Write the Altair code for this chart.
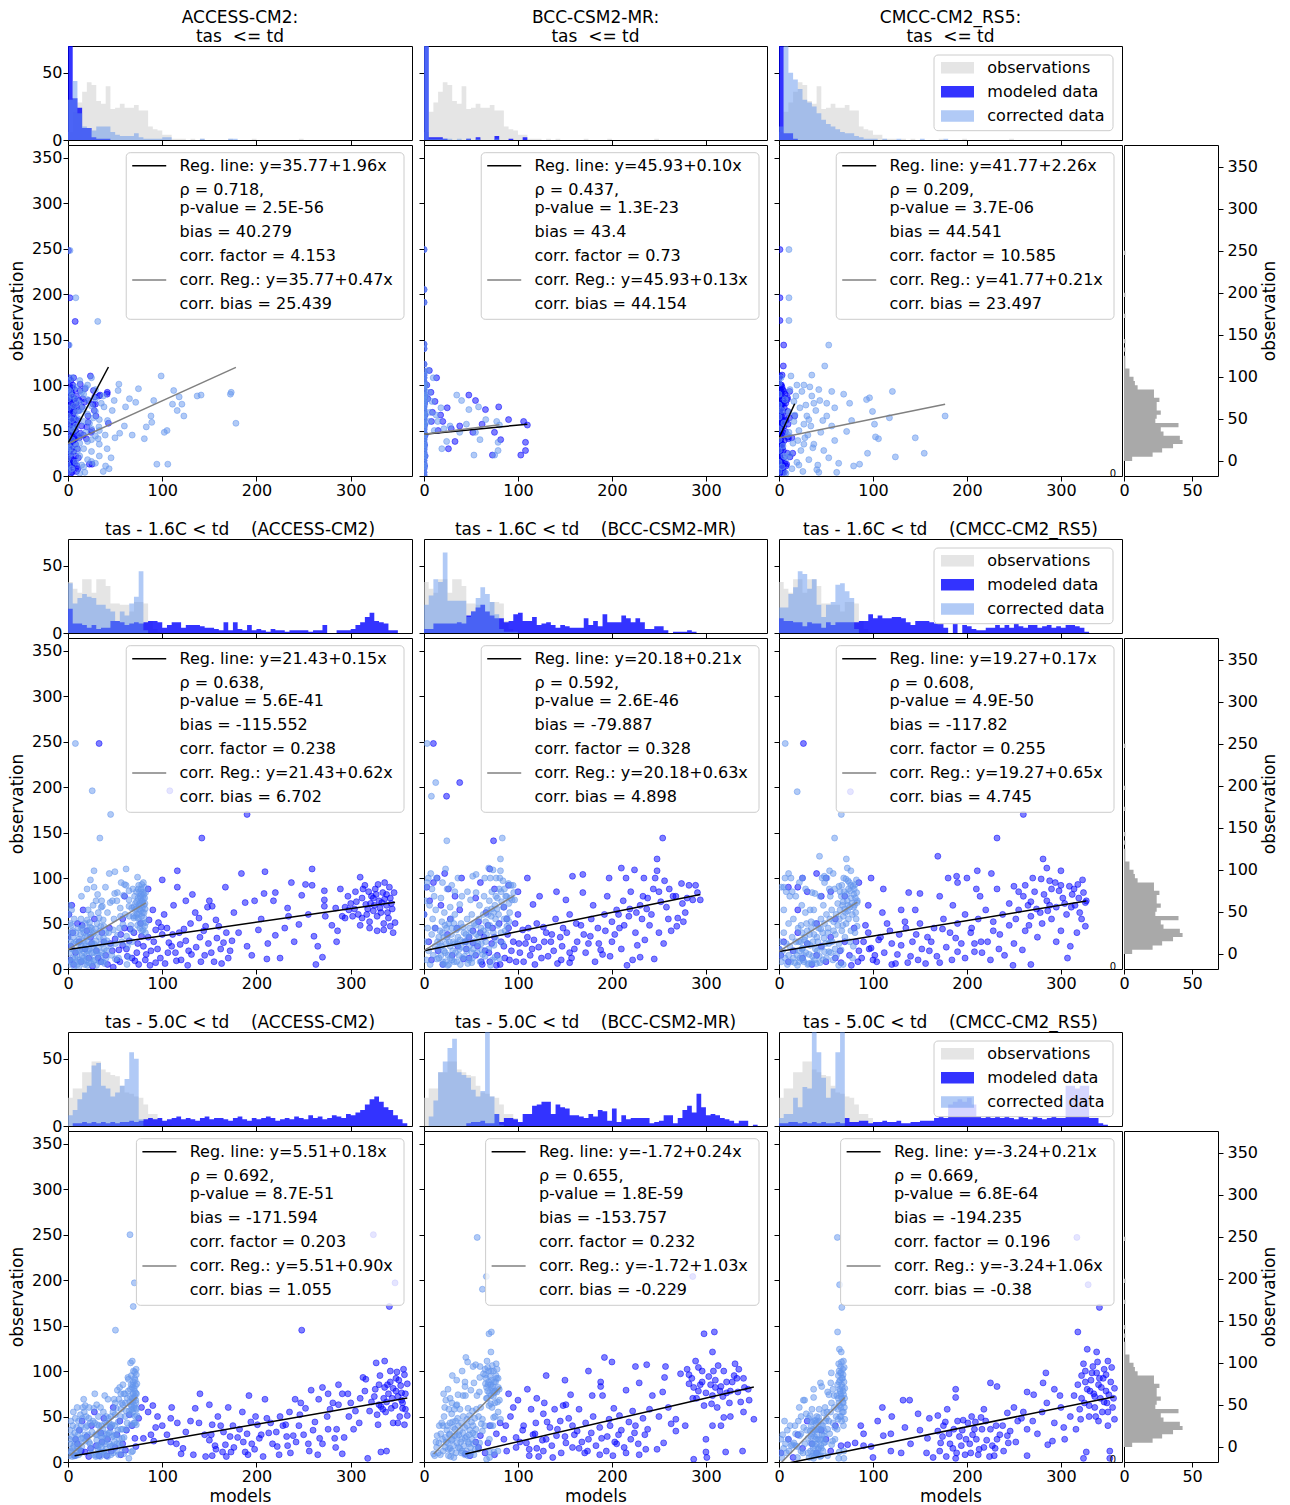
import altair as alt
import pandas as pd

FONT = "DejaVu Sans"

# ------------------------------------------------------------------ data
models = ["ACCESS-CM2", "BCC-CSM2-MR", "CMCC-CM2_RS5"]
conditions = ["tas  <= td", "tas - 1.6C < td", "tas - 5.0C < td"]

reg_a = [[35.77, 45.93, 41.77], [21.43, 20.18, 19.27], [5.51, -1.72, -3.24]]
reg_b = [[1.96, 0.10, 2.26], [0.15, 0.21, 0.17], [0.18, 0.24, 0.21]]
corr_b = [[0.47, 0.13, 0.21], [0.62, 0.63, 0.65], [0.90, 1.03, 1.06]]
rho = [[0.718, 0.437, 0.209], [0.638, 0.592, 0.608], [0.692, 0.655, 0.669]]
pval = [["2.5E-56", "1.3E-23", "3.7E-06"], ["5.6E-41", "2.6E-46", "4.9E-50"], ["8.7E-51", "1.8E-59", "6.8E-64"]]
bias = [[40.279, 43.4, 44.541], [-115.552, -79.887, -117.82], [-171.594, -153.757, -194.235]]
factor = [[4.153, 0.73, 10.585], [0.238, 0.328, 0.255], [0.203, 0.232, 0.196]]
corr_bias = [[25.439, 44.154, 23.497], [6.702, 4.898, 4.745], [1.055, -0.229, -0.38]]

# histogram counts, bins of 5 units starting at 0
obs_counts = [6, 21, 28, 36, 43, 41, 29, 27, 40, 23, 24, 27, 24, 24, 26, 22, 22, 10, 8, 7,
              4, 4, 1, 1, 1, 0, 1, 0, 1, 0, 0, 0, 0, 0, 1, 0, 0, 0, 0, 1, 0, 0, 0, 0, 0, 0, 0, 0, 0, 1]
obs_top_r2 = [38, 33, 30, 40, 40, 30, 40, 40, 35, 22, 22, 21, 21, 16, 23, 23, 22, 9, 3, 1]
obs_top_r3 = [21, 28, 28, 40, 40, 48, 48, 42, 40, 38, 37, 30, 25, 24, 22, 21, 16, 9, 9, 6, 2, 1]

mod_top = [
    [[80, 31, 24, 9, 9, 2, 1, 1, 1],
     [100, 2, 2, 2, 1, 0, 0, 0, 0, 1, 0, 2, 0, 0, 0, 3, 0, 0, 1, 0, 0, 2],
     [90, 5, 5, 1]],
    [[18, 7, 7, 6, 4, 6, 3, 4, 4, 9, 9, 8, 6, 7, 8, 7, 8, 9, 9, 8, 4, 6, 8, 8, 4, 6, 6, 6, 5, 4,
      4, 3, 2, 8, 2, 8, 3, 2, 6, 2, 3, 2, 1, 3, 2, 2, 1, 2, 2, 2, 2, 1, 2, 2, 6, 0, 0, 2, 2, 2,
      3, 6, 8, 12, 15, 9, 8, 7, 2, 2],
     [3, 3, 7, 7, 7, 7, 7, 8, 7, 13, 16, 19, 21, 16, 13, 11, 11, 8, 9, 14, 15, 9, 9, 12, 6, 7, 8, 6, 4, 6,
      5, 4, 4, 4, 11, 6, 9, 5, 14, 8, 8, 8, 13, 11, 8, 11, 8, 3, 3, 5, 5, 2, 0, 1, 1, 1, 2, 1],
     [11, 9, 9, 8, 8, 5, 8, 7, 7, 4, 8, 6, 8, 8, 8, 8, 8, 9, 9, 14, 11, 13, 11, 11, 12, 12, 11, 8, 6, 9,
      9, 9, 8, 7, 7, 4, 0, 7, 0, 6, 5, 3, 2, 2, 4, 4, 6, 4, 6, 4, 7, 5, 4, 6, 6, 4, 5, 6, 4, 5,
      4, 6, 6, 5, 4, 1]],
    [[0, 2, 2, 3, 2, 3, 2, 3, 2, 3, 2, 3, 3, 4, 3, 4, 5, 6, 5, 6, 4, 5, 6, 7, 5, 6, 5, 4, 6, 7,
      5, 6, 6, 5, 4, 6, 7, 5, 4, 6, 5, 6, 7, 6, 4, 5, 6, 5, 7, 6, 5, 8, 6, 7, 5, 6, 8, 7, 6, 9,
      8, 10, 12, 16, 20, 22, 18, 14, 12, 8, 5, 2],
     [0, 0, 0, 0, 0, 0, 0, 0, 0, 2, 3, 3, 4, 2, 2, 9, 3, 6, 6, 5, 3, 9, 9, 15, 16, 18, 18, 9, 16, 14,
      13, 8, 8, 7, 6, 9, 7, 12, 11, 4, 13, 3, 8, 5, 6, 6, 6, 6, 2, 3, 4, 8, 8, 2, 6, 12, 15, 10, 24, 14,
      8, 9, 8, 6, 5, 4, 2, 4, 4, 0, 1],
     [2, 2, 3, 3, 2, 3, 2, 3, 2, 3, 2, 2, 3, 2, 6, 3, 3, 4, 4, 2, 3, 3, 4, 3, 3, 4, 2, 2, 3, 3,
      4, 4, 4, 6, 7, 6, 16, 18, 20, 18, 21, 16, 7, 6, 7, 6, 7, 6, 7, 6, 5, 7, 6, 5, 7, 6, 5, 6, 7, 6,
      6, 30, 30, 28, 30, 30, 6, 6, 2, 1]],
]
cor_top = [
    [[30, 44, 20, 10, 9, 7, 10, 10, 10, 6, 4, 3, 3, 3, 5, 2, 1, 1, 1, 1, 2, 2, 0, 0, 0, 0, 0, 0, 1, 0,
      0, 0, 0, 0, 1, 1],
     [95, 1, 1, 1, 1, 1, 0, 1, 0, 1, 0, 1, 0, 0, 0, 1],
     [10, 70, 50, 45, 38, 30, 28, 25, 20, 15, 12, 10, 8, 6, 5, 5, 3, 2, 1, 1, 1, 0, 1, 0, 0, 1, 0, 0, 0, 0,
      1, 0, 0, 0, 0, 1]],
    [[37, 22, 26, 29, 27, 26, 21, 21, 18, 16, 9, 16, 13, 22, 27, 46, 2],
     [21, 28, 40, 38, 60, 24, 24, 24, 24, 12, 16, 26, 34, 29, 23, 14, 3, 1, 1, 1],
     [19, 19, 29, 34, 46, 44, 33, 40, 21, 12, 21, 23, 36, 37, 31, 26, 3]],
    [[8, 12, 20, 25, 30, 45, 47, 30, 28, 22, 25, 30, 35, 55, 50, 5],
     [0, 7, 19, 40, 48, 58, 65, 40, 38, 36, 27, 22, 26, 75, 22, 9, 1],
     [6, 9, 9, 21, 14, 29, 28, 75, 55, 36, 21, 28, 55, 75]],
]
obs_top = [obs_counts, obs_top_r2, obs_top_r3]

# scatter points: (model value, observation)
p11 = [(0.5, 248), (2, 196), (7.6, 170), (0.3, 144),
       (42.9, 58), (41.7, 92), (34, 89), (29.6, 66), (29.1, 79), (28.4, 87), (27, 94), (27.9, 72), (26.7, 79),
       (25.5, 13), (25.3, 50), (24.6, 48), (23.8, 110), (21.9, 83), (21.4, 59), (21.2, 66), (20, 54), (19.5, 41),
       (18, 96), (17.3, 81), (16.4, 45), (15.7, 85), (14.7, 76), (14.4, 55), (13, 101), (12.8, 94), (13.2, 47),
       (12, 42), (11.8, 83), (11.3, 72), (10.1, 61), (9.6, 11), (9.2, 76), (7.9, 54), (7.7, 41), (4.3, 4),
       (33, 88), (22.7, 13), (41.5, 90),
       (0, 5), (0, 12), (0, 20), (0, 28), (0, 35), (0, 42), (0, 50), (0, 58), (0, 66), (0, 75), (0, 85), (0, 95),
       (0, 105), (1, 8), (1, 25), (1, 40), (1, 62), (1, 88), (1, 108), (2, 15), (2, 33), (2, 55), (2, 70), (2, 98),
       (3, 3), (3, 22), (3, 45), (3, 80), (3, 105), (4, 10), (4, 30), (4, 60), (4, 90), (5, 18), (5, 38), (5, 68),
       (5, 100), (5, 84), (6, 27), (6, 52), (6, 77), (6, 108), (7, 14), (7, 44), (7, 85), (7, 95), (8, 35), (8, 62),
       (8, 22), (9, 5), (10, 30), (11, 20), (3, 72), (1.5, 50), (2.5, 28), (4.5, 48), (6.5, 64), (8.5, 80),
       (9.5, 45), (10.5, 8), (3.5, 92), (5.5, 58), (0.5, 31), (1.5, 77), (2.5, 63), (3.5, 12), (4.5, 97),
       (6, 40), (7, 71), (8, 50), (9, 88), (1, 52), (2, 84), (4, 74), (0.5, 93), (6, 16), (3, 36)]
p12 = [(0, 249), (0, 205), (0, 191), (0, 145), (0, 140), (0, 123),
       (0, 1), (0, 4), (0, 8), (0, 11), (0, 14), (0, 17), (0, 20), (0, 23), (0, 26), (0, 29), (0, 31), (0, 34),
       (0, 37), (0, 40), (0, 42), (0, 45), (0, 48), (0, 51), (0, 53), (0, 56), (0, 58), (0, 61), (0, 63), (0, 66),
       (0, 68), (0, 71), (0, 73), (0, 76), (0, 78), (0, 81), (0, 84), (0, 87), (0, 89), (0, 92), (0, 95), (0, 98),
       (0, 101), (0, 104), (0, 108), (0, 111), (0, 115),
       (0.6, 11), (0.6, 34), (0.6, 56), (0.6, 80), (0.6, 99), (1.2, 22), (1.2, 45), (1.2, 67), (1.2, 88),
       (5.7, 116), (13.4, 108), (7.4, 92), (11.7, 82), (17.7, 67), (24.7, 75), (29, 52), (33, 38), (47.7, 89),
       (54.8, 83), (61.8, 57), (65.4, 73), (75, 48), (79.5, 76), (81.6, 40), (90, 62), (72.8, 23), (106, 60),
       (108, 37), (108, 28), (103, 23), (110, 56), (4, 85), (9, 70), (20, 60), (38, 55), (52, 48), (3, 100),
       (8, 60), (15, 50), (26, 30)]
p13 = [(1, 249), (1, 196), (1, 171), (5, 144), (4.6, 121),
       (16.7, 66), (14.6, 25), (13.7, 42), (11.7, 21), (11.4, 93), (11.1, 64), (10, 41), (9.7, 43), (9.6, 57),
       (9.4, 71), (9.1, 86), (8.8, 84), (8.9, 25), (8.1, 13), (7.5, 11), (7.3, 61), (7.1, 80), (6.8, 49),
       (6.5, 90), (6, 14), (5.8, 4), (5.6, 39), (5.3, 93), (4.8, 80), (4.4, 61), (4.1, 83), (4, 4), (3.8, 7),
       (3.4, 31), (3.3, 111), (3.1, 98), (2.7, 78), (2.5, 57), (2.3, 93), (1.9, 39), (1.6, 67), (1.1, 24),
       (0, 5), (0, 15), (0, 28), (0, 40), (0, 52), (0, 65), (0, 78), (0, 90), (0, 102), (0.3, 10), (0.4, 33),
       (0.5, 58), (0.6, 84), (0.8, 20), (0.9, 45), (1, 70), (1.1, 95), (1.3, 8), (1.4, 36), (1.5, 60), (1.7, 88),
       (1.8, 15), (2, 50), (2.1, 75), (2.2, 28), (2.4, 5), (2.6, 42), (2.8, 66), (3, 18), (3.2, 55), (3.5, 35),
       (3.7, 72), (3.9, 12), (4.2, 48), (4.5, 28), (4.8, 66), (5, 20), (5.3, 55), (5.6, 75), (0.2, 108),
       (1.2, 110), (2.5, 100), (0.7, 3), (3.3, 88), (4, 95), (0.5, 22), (1, 48), (1.5, 82), (2, 12), (2.5, 35),
       (3, 62), (3.5, 80), (0.3, 72), (1.8, 100), (2.9, 45)]
p21 = [(33, 248), (108, 196), (190, 170), (142, 144),
       (300, 72), (305, 85), (308, 60), (312, 78), (315, 92), (318, 66), (320, 52), (322, 80), (325, 70),
       (326, 88), (328, 42), (330, 75), (332, 62), (334, 84), (335, 43), (336, 95), (338, 70), (340, 56),
       (342, 78), (344, 66), (345, 40), (347, 51), (320, 45), (310, 48), (328, 58), (338, 82), (333, 73),
       (324, 64), (316, 71), (341, 90), (310, 101),
       (184, 105), (209, 107), (259, 110), (237, 95), (252, 93), (259, 92), (188, 73), (198, 75), (208, 83),
       (220, 84), (218, 75), (233, 67), (248, 81), (272, 86), (272, 76), (289, 88), (297, 80), (272, 69),
       (284, 67), (291, 58), (294, 68), (181, 40), (190, 25), (195, 15), (202, 43), (211, 11), (220, 37),
       (225, 12), (234, 58), (245, 49), (261, 36), (263, 5), (270, 13), (273, 58), (286, 42), (294, 56),
       (176, 62), (205, 55), (240, 30), (255, 60), (280, 48), (265, 25), (230, 45), (212, 28), (285, 30),
       (298, 65),
       (116, 108), (116, 90), (167, 90), (132, 82), (150, 75), (153, 69), (148, 68), (86, 54), (96, 51),
       (93, 43), (100, 38), (107, 29), (114, 18), (125, 31), (135, 62), (139, 56), (146, 47), (157, 54),
       (160, 47), (165, 29), (174, 31), (56, 38), (65, 31), (73, 18), (82, 10), (93, 7), (80, 25), (54, 21),
       (52, 10), (40, 15), (45, 28), (35, 8), (60, 45), (70, 40), (75, 5), (88, 20), (98, 12), (105, 45),
       (110, 25), (120, 10), (128, 20), (140, 35), (145, 15), (155, 8), (162, 22), (170, 12), (48, 2), (62, 22),
       (68, 12), (85, 35), (102, 60), (118, 40), (130, 50), (38, 30), (44, 45), (58, 55), (77, 50), (90, 65),
       (112, 70), (125, 75), (60, 80), (85, 88), (100, 98),
       (1, 60), (2, 10), (3, 25), (5, 40), (6, 5), (8, 18), (10, 50), (12, 30), (14, 8), (16, 65), (18, 22),
       (20, 42), (22, 12), (24, 35), (26, 3), (28, 55), (30, 20), (4, 70), (15, 48), (25, 28), (0, 35),
       (32, 12), (36, 40), (42, 5), (47, 20), (50, 33), (55, 8), (58, 26), (63, 14), (66, 44), (71, 9), (74, 28),
       (78, 36), (83, 16), (87, 4), (91, 30), (95, 22), (99, 46), (103, 6), (106, 18), (111, 38), (115, 9),
       (119, 27), (123, 44), (127, 4), (131, 16), (136, 24), (141, 8), (144, 42), (149, 28), (152, 18), (158, 34),
       (163, 6), (168, 40), (172, 20), (302, 58), (306, 74), (313, 88), (317, 60), (321, 72), (327, 82),
       (331, 67), (336, 77), (339, 62), (343, 72), (346, 84), (329, 93), (319, 85), (304, 66), (312, 56),
       (335, 50), (342, 47), (324, 78)]
p22 = [(10, 248), (38, 205), (24, 190), (74, 141), (254, 144), (248, 121),
       (158, 102), (169, 104), (210, 111), (224, 109), (248, 108), (197, 100), (215, 100), (234, 100),
       (246, 100), (256, 97), (282, 92), (289, 92), (294, 76), (286, 76), (270, 56), (269, 47), (263, 42),
       (245, 11), (230, 13), (222, 10), (216, 4), (227, 26), (188, 21), (190, 16), (141, 85), (151, 76),
       (169, 84), (116, 71), (123, 80), (180, 70), (195, 80), (205, 65), (212, 75), (220, 85), (230, 70),
       (238, 78), (242, 60), (250, 85), (258, 68), (265, 80), (275, 72), (278, 62), (260, 55), (250, 40),
       (240, 48), (232, 55), (225, 40), (218, 58), (208, 45), (200, 52), (192, 60), (185, 45), (178, 55),
       (170, 38), (162, 50), (155, 60), (148, 45), (140, 55), (135, 30), (175, 28), (200, 30), (210, 22),
       (235, 32), (255, 28), (160, 22),
       (155, 18), (146, 10), (155, 7), (105, 43), (102, 18), (91, 10), (81, 5), (42, 11), (52, 29), (60, 40),
       (65, 20), (70, 8), (75, 35), (80, 50), (85, 25), (90, 45), (95, 30), (100, 60), (110, 35), (115, 22),
       (120, 50), (125, 12), (130, 40), (138, 20), (145, 35), (55, 15), (62, 5), (68, 48), (72, 28), (78, 15),
       (88, 55), (98, 8), (108, 28), (118, 5), (128, 30), (48, 35), (58, 52), (45, 22), (66, 62), (85, 68),
       (0, 60), (5, 30), (8, 10), (12, 45), (15, 20), (18, 70), (20, 5), (25, 38), (28, 55), (30, 15), (33, 80),
       (36, 25), (3, 90), (10, 95), (22, 105), (14, 100), (35, 45), (38, 65), (6, 75), (26, 88), (40, 100),
       (60, 95), (70, 110), (90, 92), (100, 85), (55, 78), (75, 88), (110, 100),
       (44, 30), (48, 12), (52, 42), (57, 25), (61, 8), (64, 35), (69, 18), (73, 45), (77, 4), (82, 30), (86, 12),
       (89, 38), (93, 20), (97, 50), (101, 28), (106, 8), (111, 45), (113, 15), (117, 32), (122, 24), (127, 46),
       (132, 14), (136, 38), (142, 6), (147, 25), (152, 40), (157, 12), (163, 30), (167, 48), (172, 18),
       (177, 36), (182, 8), (186, 28), (193, 42), (198, 14), (203, 38), (207, 60), (213, 48), (219, 66),
       (226, 62), (233, 80), (237, 66), (244, 88), (252, 74), (261, 88), (268, 80), (274, 94), (280, 78),
       (291, 84), (276, 52)]
p23 = [(26, 248), (76, 195), (260, 170), (232, 144),
       (169, 124), (281, 121), (285, 111), (300, 108), (211, 108), (226, 105), (180, 100), (189, 102),
       (200, 100), (190, 95), (98, 100), (111, 88), (138, 84), (150, 83), (171, 80), (214, 80), (232, 88),
       (250, 91), (270, 100), (279, 99), (309, 91), (318, 93), (324, 84), (326, 73), (326, 47), (317, 40),
       (307, 12), (300, 42), (268, 5), (249, 4), (259, 21), (208, 19), (190, 19), (171, 7), (148, 10), (137, 7),
       (126, 16), (98, 23), (84, 8), (77, 4), (66, 7),
       (260, 80), (265, 70), (272, 85), (278, 62), (285, 75), (290, 88), (295, 68), (302, 78), (306, 60),
       (312, 82), (315, 70), (320, 62), (322, 55), (290, 55), (280, 50), (268, 58), (255, 65), (245, 72),
       (238, 60), (228, 52), (220, 65), (212, 55), (205, 45), (198, 60), (190, 50), (182, 40), (175, 55),
       (165, 45), (158, 35), (150, 50), (142, 30), (135, 45), (128, 38), (120, 28), (115, 50), (108, 35),
       (102, 15), (95, 40), (90, 30), (85, 20), (80, 45), (75, 15), (70, 30), (65, 20), (60, 12), (55, 35),
       (50, 8), (45, 25), (40, 15), (35, 5), (30, 28), (25, 12), (20, 40), (15, 20), (10, 8), (5, 30), (2, 15),
       (215, 30), (235, 38), (250, 28), (275, 35), (295, 30), (310, 25), (240, 15), (225, 10), (160, 20),
       (110, 62), (130, 65), (95, 70), (60, 55), (40, 50), (20, 65), (10, 90), (30, 85), (50, 100), (70, 80),
       (85, 95), (245, 48), (262, 42), (300, 92), (288, 97), (120, 5), (100, 10), (145, 65), (185, 70),
       (210, 88), (20, 90), (40, 105), (55, 85), (25, 100), (45, 80), (327, 75), (0, 22),
       (82, 30), (88, 12), (92, 48), (96, 22), (104, 8), (106, 32), (112, 18), (118, 42), (124, 6), (130, 26),
       (134, 52), (140, 14), (146, 38), (152, 22), (156, 6), (162, 30), (168, 14), (174, 44), (178, 24),
       (184, 10), (188, 34), (194, 28), (198, 12), (204, 40), (208, 28), (216, 18), (222, 30), (228, 42),
       (234, 22), (255, 85), (262, 92), (268, 74), (274, 66), (282, 82), (288, 70), (294, 95), (298, 86),
       (304, 72), (311, 68), (314, 88), (319, 78), (323, 98), (252, 55), (266, 48), (286, 64)]
p31 = [(324, 250), (347, 197), (341, 171), (248, 145),
       (327, 109), (336, 111), (356, 102), (357, 96), (313, 93), (316, 91), (315, 78), (330, 63), (335, 70),
       (340, 75), (345, 81), (350, 72), (355, 65), (338, 66), (348, 78), (353, 84), (332, 61), (343, 59),
       (355, 59), (345, 43), (350, 43), (357, 41), (329, 41), (320, 56), (318, 4), (332, 11), (338, 12),
       (360, 51), (354, 68), (342, 88), (348, 92), (330, 85), (325, 72), (337, 55), (352, 50), (358, 75),
       (270, 82), (287, 85), (297, 75), (291, 75), (258, 79), (266, 69), (276, 75), (281, 65), (287, 63),
       (298, 50), (305, 56), (309, 43), (303, 36), (293, 27), (291, 9), (284, 16), (285, 36), (276, 36),
       (267, 26), (265, 8), (260, 35), (252, 59), (247, 65), (241, 69), (235, 55), (231, 41), (239, 29),
       (233, 18), (222, 17), (221, 33), (215, 43), (211, 48), (209, 69), (192, 73), (199, 50), (201, 41),
       (190, 31), (188, 11), (180, 27), (173, 11), (167, 19), (164, 11), (157, 14), (153, 7), (150, 24),
       (153, 41), (150, 63), (159, 50), (165, 33), (135, 59), (139, 43), (125, 33), (133, 8), (120, 9),
       (116, 43), (109, 48), (100, 40), (93, 38), (91, 23), (80, 26), (71, 26), (72, 17), (61, 13), (50, 16),
       (41, 7), (33, 7), (22, 6), (18, 11), (82, 69), (109, 22), (122, 15), (146, 6),
       (10, 20), (12, 35), (15, 45), (20, 28), (25, 40), (28, 55), (30, 18), (35, 32), (38, 48), (42, 25),
       (45, 38), (48, 60), (52, 30), (55, 45), (58, 20), (62, 35), (65, 52), (68, 40), (75, 48), (78, 60),
       (85, 55), (88, 30), (90, 62), (95, 50), (14, 12), (8, 25), (24, 15), (36, 22), (46, 12), (56, 8),
       (7, 7), (105, 30), (115, 20), (130, 45), (145, 30), (175, 40), (185, 55), (205, 30), (225, 50),
       (245, 40), (255, 20), (275, 50), (300, 65), (310, 70), (195, 20), (170, 60), (140, 75), (110, 60),
       (152, 30), (156, 18), (162, 40), (168, 6), (172, 28), (176, 16), (182, 36), (186, 22), (191, 8), (194, 44),
       (198, 14), (203, 26), (207, 6), (213, 32), (217, 20), (224, 8), (228, 40), (232, 28), (236, 10), (242, 22),
       (246, 52), (250, 30), (256, 12), (262, 44), (270, 20), (278, 58), (283, 26), (322, 66), (326, 80),
       (331, 95), (334, 58), (339, 85), (344, 70), (347, 62), (351, 90), (354, 76), (358, 58), (336, 82),
       (342, 100), (328, 52), (349, 99), (360, 86)]
p32 = [(244, 247), (286, 204), (268, 190), (298, 141), (309, 143),
       (307, 121), (289, 111), (331, 108), (308, 100), (319, 100), (296, 100), (280, 102), (340, 92),
       (333, 92), (257, 105), (237, 107), (256, 93), (273, 97), (282, 86), (287, 82), (294, 85), (300, 76),
       (307, 73), (316, 83), (326, 78), (334, 77), (337, 66), (340, 55), (351, 47), (326, 50), (319, 49),
       (307, 40), (316, 40), (300, 25), (321, 11), (339, 12), (301, 5), (287, 3), (300, 11), (310, 90),
       (322, 88), (330, 95), (345, 80), (290, 70), (298, 62), (312, 60), (325, 65), (318, 72), (305, 85),
       (285, 92),
       (192, 115), (188, 88), (188, 83), (179, 73), (190, 73), (202, 59), (215, 79), (229, 87), (243, 73),
       (254, 77), (240, 58), (222, 56), (208, 51), (197, 47), (187, 38), (172, 43), (165, 58), (156, 74),
       (151, 63), (148, 62), (139, 58), (128, 65), (127, 53), (114, 58), (100, 68), (119, 43), (134, 38),
       (141, 29), (151, 21), (171, 10), (187, 8), (201, 7), (215, 10), (229, 8), (255, 21), (248, 14),
       (236, 14), (268, 47), (278, 40), (268, 34), (263, 42), (160, 30), (175, 25), (195, 28), (210, 35),
       (225, 40), (235, 30), (250, 50), (260, 60), (180, 50), (130, 25), (145, 45), (165, 15), (220, 25),
       (205, 20), (158, 40),
       (81, 43), (77, 31), (87, 40), (98, 27), (109, 21), (118, 31), (98, 16), (88, 12), (75, 8), (112, 7),
       (127, 12), (137, 5), (58, 16), (60, 29), (68, 21), (49, 7), (44, 9), (92, 50), (105, 35), (70, 40),
       (65, 10), (85, 25), (120, 15), (55, 22), (95, 60), (110, 80), (130, 95), (150, 90), (175, 100),
       (200, 110), (225, 105), (90, 75), (120, 70),
       (102, 22), (106, 40), (112, 14), (116, 30), (122, 6), (126, 24), (131, 44), (136, 18), (142, 36),
       (146, 10), (150, 28), (154, 48), (158, 16), (163, 34), (168, 22), (174, 12), (178, 32), (183, 18),
       (189, 26), (194, 12), (198, 40), (203, 22), (207, 30), (213, 16), (218, 44), (224, 32), (228, 20),
       (233, 48), (238, 36), (282, 96), (286, 70), (292, 104), (296, 88), (303, 94), (306, 64), (313, 106),
       (315, 78), (322, 76), (328, 88), (335, 102), (341, 82), (346, 68), (292, 78), (310, 82)]
p33 = [(317, 247), (329, 195), (341, 170), (318, 143),
       (328, 124), (338, 121), (350, 111), (357, 81), (357, 47), (350, 40), (352, 12), (352, 4), (324, 4),
       (327, 11), (316, 36), (321, 47), (314, 73), (318, 85), (322, 95), (328, 80), (332, 90), (335, 75),
       (338, 98), (340, 85), (342, 70), (345, 92), (348, 78), (349, 65), (344, 55), (336, 60), (330, 50),
       (325, 65), (320, 58), (340, 45), (355, 60), (353, 88), (346, 102), (334, 105), (326, 100),
       (225, 87), (232, 83), (284, 98), (281, 87), (264, 77), (271, 74), (293, 80), (299, 73), (188, 80),
       (188, 71), (179, 58), (169, 51), (160, 48), (148, 53), (132, 68), (139, 68), (134, 38), (119, 31),
       (111, 29), (98, 17), (90, 31), (90, 18), (87, 40), (81, 21), (73, 19), (66, 18), (119, 12), (157, 10),
       (164, 5), (178, 6), (188, 4), (229, 7), (264, 7), (244, 21), (232, 25), (208, 36), (199, 25), (194, 18),
       (215, 49), (218, 58), (201, 43), (181, 31), (172, 21), (169, 34), (158, 26), (243, 54), (254, 45),
       (264, 36), (275, 31), (286, 19), (293, 43), (303, 38), (291, 23), (225, 36), (243, 29), (218, 16),
       (204, 10), (304, 25), (185, 15), (195, 35), (210, 25), (220, 45), (230, 15), (205, 50), (212, 8),
       (190, 45), (175, 40), (238, 40), (250, 60), (260, 55), (280, 55), (300, 60), (310, 50), (270, 45),
       (285, 65),
       (2, 10), (10, 25), (15, 5), (20, 30), (25, 15), (30, 45), (35, 20), (40, 10), (45, 35), (50, 25),
       (55, 12), (60, 40), (120, 50), (105, 45), (140, 20), (150, 35), (100, 5), (130, 10), (110, 60),
       (171, 12), (174, 28), (177, 44), (182, 20), (186, 36), (189, 10), (192, 28), (196, 46), (198, 8),
       (203, 20), (206, 30), (209, 44), (213, 14), (216, 36), (221, 24), (224, 6), (227, 18), (231, 40),
       (235, 30), (239, 12), (246, 34), (252, 22), (258, 48), (322, 70), (326, 88), (330, 62), (333, 98),
       (336, 72), (339, 110), (343, 82), (346, 66), (348, 96), (351, 74), (354, 104), (356, 70), (331, 78),
       (341, 92), (324, 108), (350, 55), (337, 50)]
points = [[p11, p12, p13], [p21, p22, p23], [p31, p32, p33]]

# ------------------------------------------------------------------ style / layout
C_MOD, C_COR, C_OBS, C_RH = "#0000ff", "#6495ed", "#d3d3d3", "#a9a9a9"
BW = 5
PW = [344, 343, 343]
HH, SH, RW = 94, 331, 94
LEG_FS = 16
PT_SIZE = 36
PT_OP = 0.5

CW = {'.': .318, ',': .318, ' ': .318, '=': .838, '+': .838, '-': .361, ':': .337, 'E': .632, 'R': .695,
      'e': .615, 'g': .635, 'l': .278, 'i': .278, 'n': .634, 'y': .592, 'x': .592, 'ρ': .634, 'p': .635,
      'v': .592, 'a': .613, 'u': .634, 'b': .635, 's': .521, 'c': .550, 'o': .612, 'r': .411, 'f': .352,
      't': .392, 'd': .635, 'm': .974}


def text_w(s):
    return sum(CW.get(ch, .636) for ch in s) * LEG_FS


def dummy():
    return pd.DataFrame({"k": [0]})


def spacer(w, h):
    return alt.Chart(dummy()).mark_point(opacity=0).encode(
        x=alt.value(0), y=alt.value(0)).properties(width=w, height=h, view=alt.ViewBackground(strokeOpacity=0))


def step_df(counts):
    xs = [i * BW for i in range(len(counts))] + [len(counts) * BW]
    return pd.DataFrame({"b": xs, "n": list(counts) + [0]})


def col_title(r, c):
    nb = "\u00a0"
    if r == 0:
        return [models[c] + ":", conditions[0].replace(" ", nb)]
    return conditions[r] + nb * 4 + "(" + models[c] + ")"


def hist_panel(r, c):
    w = PW[c]
    xsc = alt.Scale(domain=[0, 365], nice=False, zero=False)
    ysc = alt.Scale(domain=[0, 70], nice=False)
    xax = alt.Axis(values=[0, 100, 200, 300], labels=False, title=None)
    yax = alt.Axis(values=[0, 50], labels=(c == 0), title=None)
    layers = []
    for counts, col, op in [(obs_top[r], C_OBS, 0.6), (mod_top[r][c], C_MOD, 0.8), (cor_top[r][c], C_COR, 0.5)]:
        layers.append(
            alt.Chart(step_df(counts)).mark_area(interpolate="step-after", clip=True, color=col, opacity=op)
            .encode(x=alt.X("b:Q", scale=xsc, axis=xax), y=alt.Y("n:Q", scale=ysc, axis=yax))
        )
    if c == 2:
        bx0, bx1 = 155, w - 9
        layers.append(alt.Chart(dummy()).mark_rect(fill="white", fillOpacity=0.8, stroke="#cccccc",
                                                   strokeWidth=1, cornerRadius=4)
                      .encode(x=alt.value(bx0), x2=alt.value(bx1), y=alt.value(9), y2=alt.value(84.7)))
        for (lab, col, op), yc in zip([("observations", C_OBS, 0.6), ("modeled data", C_MOD, 0.8),
                                       ("corrected data", C_COR, 0.5)], [21.7, 45.7, 70]):
            layers.append(alt.Chart(dummy()).mark_rect(fill=col, fillOpacity=op)
                          .encode(x=alt.value(162), x2=alt.value(195), y=alt.value(yc - 5.8), y2=alt.value(yc + 5.8)))
            layers.append(alt.Chart(dummy()).mark_text(text=lab, align="left", baseline="middle",
                                                       font=FONT, fontSize=LEG_FS, color="black")
                          .encode(x=alt.value(208.3), y=alt.value(yc)))
    return alt.layer(*layers).properties(
        width=w, height=HH,
        title=alt.TitleParams(text=col_title(r, c), font=FONT, fontSize=17, fontWeight="normal",
                              color="black", anchor="middle", offset=0, lineHeight=19))


def scatter_panel(r, c):
    w = PW[c]
    pts = points[r][c]
    f = factor[r][c]
    a, b, cb = reg_a[r][c], reg_b[r][c], corr_b[r][c]
    mx = [p[0] for p in pts]
    oy = [p[1] for p in pts]
    dm = pd.DataFrame({"x": mx, "y": oy})
    dc = pd.DataFrame({"x": [v * f for v in mx], "y": oy})
    x0, x1 = min(mx), max(mx)
    dl = pd.DataFrame({"x": [x0, x1], "y": [a + b * x0, a + b * x1]})
    dg = pd.DataFrame({"x": [x0 * f, x1 * f], "y": [a + cb * x0 * f, a + cb * x1 * f]})
    xsc = alt.Scale(domain=[0, 365], nice=False, zero=False)
    ysc = alt.Scale(domain=[0, 364], nice=False, zero=False)
    xax = alt.Axis(values=[0, 100, 200, 300], title=("models" if r == 2 else None), titlePadding=4)
    yax = alt.Axis(values=list(range(0, 351, 50)), labels=(c == 0),
                   title=("observation" if c == 0 else None), titlePadding=5)
    enc = dict(x=alt.X("x:Q", scale=xsc, axis=xax), y=alt.Y("y:Q", scale=ysc, axis=yax))
    layers = [
        alt.Chart(dm).mark_point(shape="circle", fill=C_MOD, stroke=C_MOD, fillOpacity=PT_OP, strokeOpacity=PT_OP,
                                 strokeWidth=1, size=PT_SIZE, clip=True).encode(**enc),
        alt.Chart(dc).mark_point(shape="circle", fill=C_COR, stroke=C_COR, fillOpacity=PT_OP, strokeOpacity=PT_OP,
                                 strokeWidth=1, size=PT_SIZE, clip=True).encode(**enc),
        alt.Chart(dl).mark_line(color="black", strokeWidth=1.5, clip=True).encode(**enc),
        alt.Chart(dg).mark_line(color="#808080", strokeWidth=1.5, clip=True).encode(**enc),
    ]
    lines = [f"Reg. line: y={a:.2f}+{b:.2f}x", f"ρ = {rho[r][c]},", f"p-value = {pval[r][c]}",
             f"bias = {bias[r][c]}", f"corr. factor = {factor[r][c]}", f"corr. Reg.: y={a:.2f}+{cb:.2f}x",
             f"corr. bias = {corr_bias[r][c]}"]
    bx1 = w - 8
    bx0 = bx1 - (max(text_w(s) for s in lines) + 62)
    layers.append(alt.Chart(dummy()).mark_rect(fill="white", fillOpacity=0.8, stroke="#cccccc", strokeWidth=1,
                                               cornerRadius=4)
                  .encode(x=alt.value(bx0), x2=alt.value(bx1), y=alt.value(7.7), y2=alt.value(174.3)))
    for yc, col in [(20.7, "black"), (135, "#808080")]:
        layers.append(alt.Chart(dummy()).mark_rule(color=col, strokeWidth=1.5)
                      .encode(x=alt.value(bx0 + 6), x2=alt.value(bx0 + 40), y=alt.value(yc)))
    for s, yc in zip(lines, [20.7, 45, 63.3, 87.3, 111, 135, 159]):
        layers.append(alt.Chart(dummy()).mark_text(text=s, align="left", baseline="middle", font=FONT,
                                                   fontSize=LEG_FS, color="black")
                      .encode(x=alt.value(bx0 + 53.3), y=alt.value(yc)))
    if c == 2:
        layers.append(alt.Chart(dummy()).mark_text(text="0", align="center", baseline="bottom", font=FONT,
                                                   fontSize=10, color="black")
                      .encode(x=alt.value(w - 9), y=alt.value(SH + 3)))
    return alt.layer(*layers).properties(width=w, height=SH)


def right_hist(r):
    df = step_df(obs_counts)
    return alt.Chart(df).mark_area(orient="horizontal", interpolate="step-after", color=C_RH, clip=True).encode(
        y=alt.Y("b:Q", scale=alt.Scale(domain=[-18, 376], nice=False, zero=False),
                axis=alt.Axis(orient="right", values=list(range(0, 351, 50)), title="observation",
                              titleAngle=270, titlePadding=21, labelPadding=4)),
        x=alt.X("n:Q", scale=alt.Scale(domain=[0, 69], nice=False),
                axis=alt.Axis(values=[0, 50], title=None)),
    ).properties(width=RW, height=SH)


# grid: 7 columns (panel, gap, panel, gap, panel, gap, side histogram)
cells = []
for r in range(3):
    cells += [hist_panel(r, 0), spacer(12, 1), hist_panel(r, 1), spacer(12, 1), hist_panel(r, 2),
              spacer(2, 1), spacer(1, 1)]
    cells += [spacer(1, 5)] + [spacer(1, 1) for _ in range(6)]
    cells += [scatter_panel(r, 0), spacer(1, 1), scatter_panel(r, 1), spacer(1, 1), scatter_panel(r, 2),
              spacer(1, 1), right_hist(r)]
    if r < 2:
        cells += [spacer(1, 63)] + [spacer(1, 1) for _ in range(6)]

chart = alt.concat(*cells, columns=7, spacing=0, bounds="flush").properties(
    padding={"left": 7, "top": 8, "right": 5, "bottom": 0}
).configure_view(stroke="black", strokeWidth=1).configure_axis(
    labelFont=FONT, labelFontSize=16, labelColor="black", titleFont=FONT, titleFontSize=17,
    titleFontWeight="normal", titleColor="black", tickColor="black", tickSize=5, tickWidth=1,
    domain=False, grid=False, labelFlush=False, labelPadding=1
).configure_title(font=FONT, fontSize=17, fontWeight="normal", color="black")

chart.save("out.html", embed_options={"renderer": "svg", "actions": False})
